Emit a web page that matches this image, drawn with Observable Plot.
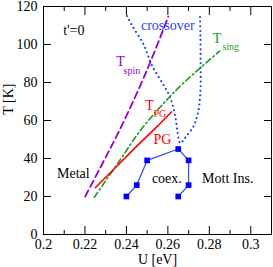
<!DOCTYPE html>
<html><head><meta charset="utf-8">
<script src="https://cdn.jsdelivr.net/npm/d3@7"></script>
<script src="https://cdn.jsdelivr.net/npm/@observablehq/plot@0.6"></script>
<style>body{margin:0;background:#fff;} svg{display:block;} svg text{font-family:"Liberation Serif","Times New Roman",serif !important;}</style>
</head><body><div id="chart"></div>
<script>
// Coexistence region (squares + line)
const coexU = [0.24, 0.245, 0.25, 0.265, 0.27, 0.27, 0.265];
const coexT = [20, 26, 39, 45, 39, 26, 20];
// Pseudogap temperature T_PG
const pgU = [0.225, 0.235, 0.245, 0.255, 0.2617];
const pgT = [24.6, 35.5, 46.5, 57, 64.5];
// T_spin (dashed)
const spinU = [0.2201, 0.2285, 0.2366, 0.2467, 0.2535, 0.2602];
const spinT = [20, 37.5, 54.7, 78.4, 96, 114.7];
// T_sing (dash-dot)
const singU = [0.2245, 0.2362, 0.2467, 0.2575, 0.2676, 0.285];
const singT = [19.6, 38, 54.7, 68.5, 79.8, 96.5];
// crossover (dotted)
const crossU = [0.2403, 0.2427, 0.2483, 0.2523, 0.258, 0.2612, 0.2636, 0.2648, 0.266, 0.2684, 0.2724, 0.2745, 0.2757, 0.2758, 0.2757, 0.2755];
const crossT = [115, 110, 100, 89, 78.5, 72, 62, 53, 48, 51, 57, 64, 75, 90, 105, 115];
// ticks
const xTicks = [0.2, 0.22, 0.24, 0.26, 0.28, 0.3];
const xMinorTicks = [0.21, 0.23, 0.25, 0.27, 0.29];
const yTicks = [0, 20, 40, 60, 80, 100, 120];
// annotations
const annText = ["t'=0", "crossover", "T", "sing", "T", "spin", "T", "PG", "PG", "Metal", "coex.", "Mott Ins."];
const annU = [0.2095, 0.247, 0.2816, 0.2863, 0.2351, 0.2386, 0.2491, 0.2531, 0.2531, 0.2065, 0.2523, 0.2765];
const annT = [107.4, 110, 103, 99, 91, 86.3, 67.9, 63.5, 50, 32.3, 29.3, 29.3];
const annColor = ["black", "#1f3fff", "#1e9a1e", "#1e9a1e", "#9400d3", "#9400d3", "red", "red", "red", "black", "black", "black"];
const annSize = [14, 14, 14, 10, 14, 10, 14, 10, 14, 14, 14, 14];

const zip = (U, T) => U.map((u, i) => ({u, t: T[i]}));
const ann = annText.map((s, i) => ({s, u: annU[i], t: annT[i], c: annColor[i], fs: annSize[i]}));

const font = "'Liberation Serif', 'Times New Roman', serif";
const chart = Plot.plot({
  width: 273, height: 267,
  marginLeft: 43, marginRight: 2, marginTop: 6, marginBottom: 33,
  style: {fontFamily: font, fontSize: "13px", background: "white", color: "black"},
  x: {domain: [0.2, 0.31]},
  y: {domain: [0, 120]},
  marks: [
    Plot.line(zip(crossU, crossT), {x: "u", y: "t", stroke: "#1f3fff", strokeWidth: 2.2, strokeDasharray: "0,4.6", strokeLinecap: "round", curve: "catmull-rom"}),
    Plot.line(zip(spinU, spinT), {x: "u", y: "t", stroke: "#9400d3", strokeWidth: 1.8, strokeDasharray: "7,4", curve: "catmull-rom"}),
    Plot.line(zip(singU, singT), {x: "u", y: "t", stroke: "#1e9a1e", strokeWidth: 1.6, strokeDasharray: "6,3,1.5,3", curve: "catmull-rom"}),
    Plot.line(zip(pgU, pgT), {x: "u", y: "t", stroke: "red", strokeWidth: 1.6}),
    Plot.line(zip(coexU, coexT), {x: "u", y: "t", stroke: "#2a4bff", strokeWidth: 1.2}),
    Plot.dot(zip(coexU, coexT), {x: "u", y: "t", symbol: "square", r: 3.2, fill: "blue", stroke: "none"}),
    Plot.text(ann, {x: "u", y: "t", text: "s", fill: "c", fontSize: "fs", textAnchor: "start", lineAnchor: "middle", fontFamily: font}),
    // ticks (inward)
    Plot.axisX(xTicks, {anchor: "bottom", tickSize: -8, fill: "none", label: null}),
    Plot.axisX(xMinorTicks, {anchor: "bottom", tickSize: -4, fill: "none", label: null}),
    Plot.axisX(xTicks, {anchor: "top", tickSize: -8, fill: "none", label: null}),
    Plot.axisX(xMinorTicks, {anchor: "top", tickSize: -4, fill: "none", label: null}),
    Plot.axisY(yTicks, {anchor: "left", tickSize: -8, fill: "none", label: null}),
    Plot.axisY(yTicks, {anchor: "right", tickSize: -8, fill: "none", label: null}),
    // tick labels
    Plot.axisX(xTicks, {anchor: "bottom", tickSize: 0, tickPadding: 5, label: null, fontSize: 14, fontFamily: font, tickFormat: d => String(d)}),
    Plot.axisY(yTicks, {anchor: "left", tickSize: 0, tickPadding: 6, label: null, fontSize: 14, fontFamily: font, tickFormat: d => String(d)}),
    Plot.frame({stroke: "black", strokeWidth: 1}),
    // axis titles
    Plot.text(["U [eV]"], {frameAnchor: "bottom", dy: 25, text: d => d, fontSize: 14, fontFamily: font, lineAnchor: "middle"}),
    Plot.text(["T [K]"], {frameAnchor: "left", y: () => 63, dx: -35, rotate: -90, text: d => d, fontSize: 14, fontFamily: font, lineAnchor: "middle"})
  ]
});
document.getElementById("chart").appendChild(chart);
</script>
</body></html>
